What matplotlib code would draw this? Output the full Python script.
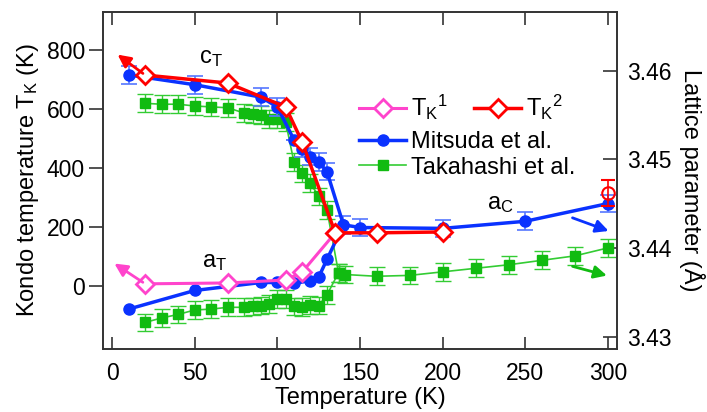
#!/usr/bin/env python3

import matplotlib as mpl
mpl.use("Agg")
import matplotlib.pyplot as plt

# Kondo temperatures (left axis, K)
tk1_temp = [20, 70, 105, 115, 135]
tk1_val = [7, 10, 20, 47, 180]
tk2_temp = [20, 70, 105, 115, 135, 160, 200]
tk2_val = [715, 688, 607, 488, 180, 180, 183]
tk_open_temp = [300]
tk_open_val = [315]
tk_open_err = [44]

# Mitsuda et al. lattice parameter (right axis, Angstrom)
mit_c_temp = [10, 50, 90, 100, 110, 115, 120, 125, 130, 140, 150, 200, 250, 300]
mit_c_val = [3.4595, 3.4584, 3.4570, 3.4559, 3.4522, 3.4512, 3.4503, 3.4497,
             3.4486, 3.4426, 3.4423, 3.4422, 3.4430, 3.4450]
mit_c_err = [0.001, 0.001, 0.001, 0.001, 0.0, 0.001, 0.001, 0.001,
             0.001, 0.001, 0.001, 0.001, 0.001, 0.001]
mit_a_temp = [10, 50, 90, 100, 110, 120, 125, 130, 140]
mit_a_val = [3.4331, 3.4352, 3.4361, 3.4361, 3.4360, 3.4363, 3.4367, 3.4387, 3.4426]

# Takahashi et al. lattice parameter (right axis, Angstrom)
tak_c_temp = [20, 30, 40, 50, 60, 70, 80, 85, 90, 95, 100, 105, 110, 115, 120, 125, 130, 137]
tak_c_val = [3.4563, 3.4562, 3.4562, 3.4560, 3.4559, 3.4558, 3.4552, 3.4551, 3.4550,
             3.4545, 3.4545, 3.4542, 3.4497, 3.4484, 3.4473, 3.4458, 3.4443, 3.4372]
tak_a_temp = [20, 30, 40, 50, 60, 70, 80, 85, 90, 95, 100, 105, 110, 115, 120, 125, 130,
              137, 141, 160, 180, 200, 220, 240, 260, 280, 300]
tak_a_val = [3.4316, 3.4321, 3.4325, 3.4330, 3.4331, 3.4333, 3.4333, 3.4334, 3.4335,
             3.4337, 3.4342, 3.4342, 3.4334, 3.4333, 3.4336, 3.4335, 3.4347,
             3.4372, 3.4370, 3.4368, 3.4369, 3.4373, 3.4377, 3.4381, 3.4386, 3.4391, 3.4400]
tak_err = 0.001

x_ticks = [0, 50, 100, 150, 200, 250, 300]
left_ticks = [0, 200, 400, 600, 800]
right_ticks = [3.43, 3.44, 3.45, 3.46]

RED = "#ff0000"
MAGENTA = "#ff44cc"
BLUE = "#0a32ff"
BLUE_ERR = "#5577ff"
GREEN = "#11bb11"
GREEN_LINE = "#33cc33"
SPINE = "#333333"


def plot_figure():
    plt.rcParams["font.family"] = ["Liberation Sans", "DejaVu Sans"]
    plt.rcParams["mathtext.default"] = "regular"

    fig = plt.figure(figsize=(7.07, 4.12), dpi=100)
    ax = fig.add_axes([0.1457, 0.1529, 0.727, 0.818])
    ax2 = ax.twinx()
    ax.set_zorder(ax2.get_zorder() + 1)
    ax.patch.set_visible(False)

    # lattice parameters
    ax2.errorbar(tak_a_temp, tak_a_val, yerr=tak_err, fmt="none", ecolor=GREEN_LINE,
                 elinewidth=1, capsize=6, capthick=1)
    ax2.errorbar(tak_c_temp, tak_c_val, yerr=tak_err, fmt="none", ecolor=GREEN_LINE,
                 elinewidth=1, capsize=6, capthick=1)
    ax2.plot(tak_a_temp, tak_a_val, "-s", color=GREEN_LINE, lw=1.2, ms=6.5,
             mfc=GREEN, mec=GREEN)
    tak_line, = ax2.plot(tak_c_temp, tak_c_val, "-s", color=GREEN_LINE, lw=1.2, ms=6.5,
                         mfc=GREEN, mec=GREEN)
    ax2.errorbar(mit_c_temp, mit_c_val, yerr=mit_c_err, fmt="none", ecolor=BLUE_ERR,
                 elinewidth=1.2, capsize=6, capthick=1.2)
    ax2.plot(mit_a_temp, mit_a_val, "-o", color=BLUE, lw=2.5, ms=8)
    mit_line, = ax2.plot(mit_c_temp, mit_c_val, "-o", color=BLUE, lw=2.5, ms=8)

    # Kondo temperatures
    tk1_line, = ax.plot(tk1_temp, tk1_val, "-D", color=MAGENTA, lw=2.2, ms=9,
                        mfc="white", mew=2)
    tk2_line, = ax.plot(tk2_temp, tk2_val, "-D", color=RED, lw=2.5, ms=9,
                        mfc="white", mew=2)
    ax.errorbar(tk_open_temp, tk_open_val, yerr=tk_open_err, fmt="o", color=RED,
                mfc="none", ms=9, mew=1.5, capsize=5, elinewidth=1.2)

    # arrows pointing to the axes
    arrow = dict(arrowstyle="-|>", lw=2, mutation_scale=19)
    ax.annotate("", xy=(2, 790), xytext=(20, 715), arrowprops=dict(arrow, color=RED))
    ax.annotate("", xy=(0, 81), xytext=(20, 7), arrowprops=dict(arrow, color=MAGENTA))
    ax2.annotate("", xy=(302, 3.4418), xytext=(277, 3.4435),
                 arrowprops=dict(arrow, color=BLUE))
    ax2.annotate("", xy=(301, 3.4368), xytext=(277, 3.4380),
                 arrowprops=dict(arrow, color=GREEN))

    ax.text(60, 773, "$c_T$", fontsize=17, ha="center", va="center")
    ax.text(62, 82, "$a_T$", fontsize=17, ha="center", va="center")
    ax.text(235, 277, "$a_C$", fontsize=17, ha="center", va="center")

    ax.set_xlim(-5.5, 305.5)
    ax.set_ylim(-214, 929)
    ax2.set_ylim(3.4286, 3.4666)
    ax.set_xticks(x_ticks)
    ax.set_yticks(left_ticks)
    ax2.set_yticks(right_ticks)

    ax.tick_params(axis="x", direction="in", length=9, width=1.2, top=True,
                   labelsize=16.5, pad=9, color=SPINE)
    ax.tick_params(axis="y", direction="out", length=10, width=1.2,
                   labelsize=16.5, pad=3, color=SPINE)
    ax2.tick_params(axis="y", direction="in", length=10, width=1.2,
                    labelsize=16.5, pad=7, color=SPINE)
    for a in (ax, ax2):
        for sp in a.spines.values():
            sp.set_color(SPINE)
            sp.set_linewidth(1.2)

    ax.set_xlabel("Temperature (K)", fontsize=17, labelpad=2)
    ax.set_ylabel("Kondo temperature T$_K$ (K)", fontsize=17, labelpad=4)
    ax2.set_ylabel("Lattice parameter (Å)", fontsize=17, rotation=270, labelpad=24)

    leg1 = ax.legend([tk1_line, tk2_line], ["T$_K$$^1$", "T$_K$$^2$"], ncol=2,
                     loc="center left", bbox_to_anchor=(0.508, 0.738),
                     bbox_transform=fig.transFigure, frameon=False, fontsize=17,
                     numpoints=1, handlelength=2.0, handletextpad=0.2,
                     columnspacing=1.1, borderpad=0, borderaxespad=0)
    ax.add_artist(leg1)
    ax.legend([mit_line, tak_line], ["Mitsuda et al.", "Takahashi et al."],
              loc="center left", bbox_to_anchor=(0.508, 0.624),
              bbox_transform=fig.transFigure, frameon=False, fontsize=17,
              numpoints=1, handlelength=2.0, handletextpad=0.2,
              labelspacing=0.15, borderpad=0, borderaxespad=0)

    fig.savefig("out.png", dpi=100)
    plt.close(fig)


def main():
    plot_figure()


if __name__ == "__main__":
    main()
